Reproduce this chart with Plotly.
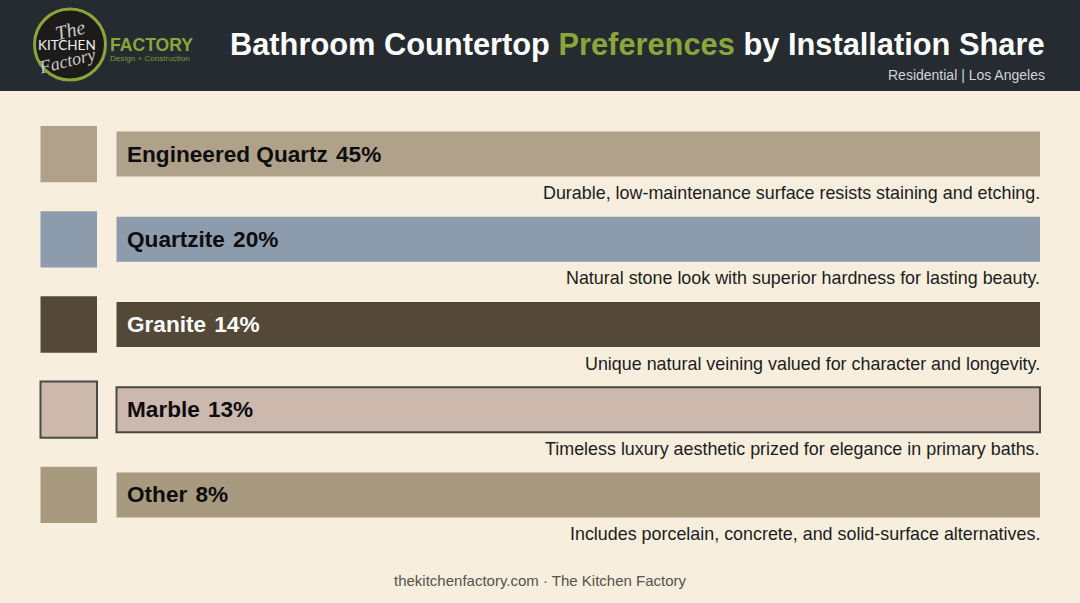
import plotly.graph_objects as go

W = 1080
H = 603

materials = ["Engineered Quartz", "Quartzite", "Granite", "Marble", "Other"]
shares = [45, 20, 14, 13, 8]
descriptions = [
    "Durable, low-maintenance surface resists staining and etching.",
    "Natural stone look with superior hardness for lasting beauty.",
    "Unique natural veining valued for character and longevity.",
    "Timeless luxury aesthetic prized for elegance in primary baths.",
    "Includes porcelain, concrete, and solid-surface alternatives.",
]
# every row is drawn as a full width band in the original, the share is only in the label
band_lengths = [1, 1, 1, 1, 1]
colors = ["#b0a28a", "#8c9cad", "#544839", "#cdb8ae", "#a89a7f"]
border_widths = [0, 0, 0, 2, 0]
label_colors = ["#0d0d0d", "#0d0d0d", "#ffffff", "#0d0d0d", "#0d0d0d"]

FONT = "Liberation Sans"
BG = "#f7eedd"
HEADER = "#252b30"
GREEN = "#8aa63a"

fig = go.Figure()

# swatches on the left
fig.add_trace(go.Bar(
    y=materials, x=band_lengths, orientation="h", width=0.66,
    xaxis="x2", yaxis="y",
    marker=dict(color=colors, line=dict(color="#4a4a44", width=border_widths)),
    hoverinfo="skip", showlegend=False,
))
# main bands
fig.add_trace(go.Bar(
    y=materials, x=band_lengths, orientation="h", width=0.53,
    xaxis="x", yaxis="y",
    marker=dict(color=colors, line=dict(color="#4a4a44", width=border_widths)),
    hoverinfo="skip", showlegend=False,
))

annotations = []
for i in range(len(materials)):
    annotations.append(dict(
        x=0, y=materials[i], xref="x", yref="y", xanchor="left", yanchor="middle",
        xshift=8, showarrow=False,
        text="<b>{}&#8202; {}%</b>".format(materials[i], shares[i]),
        font=dict(family=FONT, size=22.6, color=label_colors[i]),
    ))
    annotations.append(dict(
        x=1, y=materials[i], xref="x", yref="y", xanchor="right", yanchor="middle",
        xshift=1.5, yshift=-39, showarrow=False, text=descriptions[i],
        font=dict(family=FONT, size=17.9, color="#1c1c1c"),
    ))


def paper_text(px, py, text, size, color, anchor="left", family=FONT, angle=0):
    annotations.append(dict(
        x=px / W, y=1 - py / H, xref="paper", yref="paper",
        xanchor=anchor, yanchor="middle", showarrow=False, text=text, textangle=angle,
        font=dict(family=family, size=size, color=color),
    ))


paper_text(1047, 44, "<b>Bathroom Countertop <span style='color:{}'>Preferences</span> by Installation Share</b>".format(GREEN), 30.8, "#ffffff", "right")
paper_text(1047, 75, "Residential | Los Angeles", 14, "#d2d4d6", "right")
paper_text(540, 580, "thekitchenfactory.com · The Kitchen Factory", 15, "#55524c", "center")

# logo
paper_text(70, 30, "<i>The</i>", 20, "#c8c8c8", "center", "Liberation Serif", -14)
paper_text(67, 45, "KITCHEN", 13.5, "#f0f0f0", "center", "Lato")
paper_text(67, 61, "<i>Factory</i>", 18, "#c8c8c8", "center", "Liberation Serif", -14)
paper_text(108, 45, "<b>FACTORY</b>", 17.6, GREEN, "left")
paper_text(108, 58, "Design + Construction", 8.1, "#7f9a3a", "left")

shapes = [
    dict(type="rect", xref="paper", yref="paper", x0=0, x1=1, y0=1 - 91 / H, y1=1,
         fillcolor=HEADER, line_width=0, layer="below"),
    dict(type="circle", xref="paper", yref="paper",
         x0=34.5 / W, x1=105.5 / W, y0=1 - 80 / H, y1=1 - 9 / H,
         fillcolor="#1d1a1a", line=dict(color=GREEN, width=3), layer="below"),
]

fig.update_layout(
    width=W, height=H,
    margin=dict(l=0, r=0, t=0, b=0),
    paper_bgcolor=BG, plot_bgcolor="rgba(0,0,0,0)",
    barmode="overlay",
    annotations=annotations, shapes=shapes,
    # domains are a bit wider than the bars so the marble outline is not clipped
    xaxis=dict(domain=[114.5 / W, 1042 / W], range=[-0.00217, 1.00217], visible=False, fixedrange=True),
    xaxis2=dict(domain=[38.5 / W, 99 / W], range=[-0.0354, 1.0354], visible=False, fixedrange=True, anchor="y"),
    yaxis=dict(domain=[1 - 537.6 / H, 1 - 111.4 / H], range=[4.5, -0.5], visible=False, fixedrange=True),
)

fig.write_html("out.html", config={"displayModeBar": False},
               post_script="document.body.style.margin='0';document.body.style.overflow='hidden';")
